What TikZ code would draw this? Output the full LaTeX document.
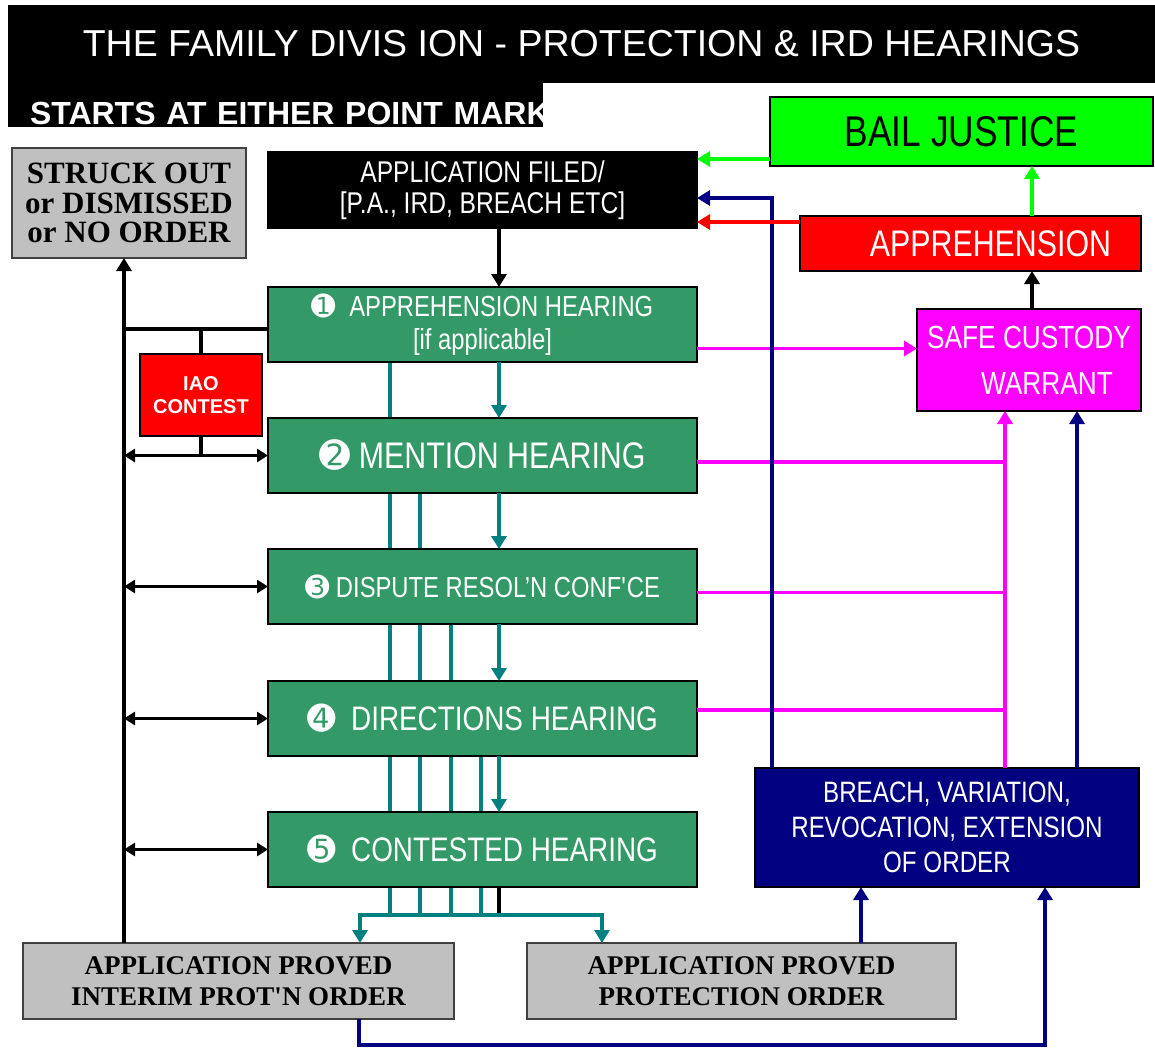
\documentclass[tikz,border=0pt]{standalone}
\usepackage{fontspec}
\setmainfont{Liberation Serif}
\setsansfont{Liberation Sans}
\newfontfamily\narrowfont{Liberation Sans}[FakeStretch=0.82]
\newfontfamily\dingfont{DejaVu Sans}
\usetikzlibrary{arrows.meta, positioning, calc, backgrounds}
\definecolor{hearinggreen}{HTML}{339966}
\definecolor{boxgrey}{HTML}{C0C0C0}
\definecolor{iaored}{HTML}{FF0000}
\definecolor{bailgreen}{HTML}{00FF00}
\definecolor{warrantpink}{HTML}{FF00FF}
\definecolor{breachnavy}{HTML}{000080}
\definecolor{linkteal}{HTML}{008080}
\newcommand{\fsz}[2]{\fontsize{#1}{#2}\selectfont}
\newcommand{\stepno}[1]{{\dingfont #1}}

\begin{document}
\begin{tikzpicture}[x=1pt, y=-1pt,
        every node/.style={inner sep=0pt, outer sep=0pt},
        bar/.style={anchor=north west, fill=black, text=white},
        hearing/.style={anchor=north west, draw=black, line width=1.5pt, fill=hearinggreen, text=white, minimum width=429pt, minimum height=75pt, align=center},
        grey/.style={anchor=north west, draw=black!75, line width=1.5pt, fill=boxgrey, align=center},
        colbox/.style={anchor=north west, draw=black, line width=1.5pt, align=center},
        link/.style={line width=3.5pt},
        arrow/.style={link, -{Triangle[length=13pt, width=15pt]}},
        both/.style={link, {Triangle[length=11pt, width=13pt]}-{Triangle[length=11pt, width=13pt]}}
    ]
    \useasboundingbox (0,0) rectangle (1155,1050);

    % header bars
    \node[bar, minimum width=1147pt, minimum height=78pt, font={\sffamily\fsz{37.5}{40}}] (title) at (8,5) {THE FAMILY DIVIS ION - PROTECTION \& IRD HEARINGS};
    \node[bar, minimum width=535pt, minimum height=44pt, text width=491pt, text height=38pt, text depth=0pt, align=left, font={\sffamily\bfseries\fsz{32}{34}}] (start) at (8,83) {\mbox{STARTS AT EITHER POINT MARK}};

    % hearings
    \node[hearing, font={\narrowfont\fsz{29}{33}}] (h1) at (268,287) {\stepno{➊}\ \ APPREHENSION HEARING\\{[if applicable]}};
    \node[hearing, font={\narrowfont\fsz{37}{40}}] (h2) at (268,418) {\stepno{➋} MENTION HEARING};
    \node[hearing, font={\narrowfont\fsz{29}{32}}] (h3) at (268,549) {\stepno{➌} DISPUTE RESOL’N CONF\textquotesingle CE};
    \node[hearing, font={\narrowfont\fsz{34}{37}}] (h4) at (268,681) {\stepno{➍}\ \ DIRECTIONS HEARING};
    \node[hearing, font={\narrowfont\fsz{34}{37}}] (h5) at (268,812) {\stepno{➎}\ \ CONTESTED HEARING};

    % other boxes
    \node[colbox, fill=black, text=white, minimum width=429pt, minimum height=76pt, font={\narrowfont\fsz{30}{31}}] (filed) at (268,152) {APPLICATION FILED/\\{[P.A., IRD, BREACH ETC]}};
    \node[grey, minimum width=234pt, minimum height=110pt, font={\bfseries\fsz{31}{29.5}}] (struck) at (12,148) {STRUCK OUT\\or DISMISSED\\or NO ORDER};
    \node[colbox, fill=iaored, text=white, minimum width=122pt, minimum height=82pt, font={\sffamily\bfseries\fsz{20}{23}}] (iao) at (140,354) {IAO\\CONTEST};
    \node[colbox, fill=bailgreen, minimum width=383pt, minimum height=69pt, font={\narrowfont\fsz{43}{46}}] (bail) at (770,97) {BAIL JUSTICE};
    \node[colbox, fill=iaored, text=white, minimum width=341pt, minimum height=55pt, font={\narrowfont\fsz{37}{40}}] (appr) at (800,216) {\hspace*{40pt}APPREHENSION};
    \node[colbox, fill=warrantpink, text=white, minimum width=224pt, minimum height=102pt, font={\narrowfont\fsz{32}{46}}] (safe) at (917,309) {SAFE CUSTODY\\\hspace*{36pt}WARRANT};
    \node[colbox, fill=breachnavy, text=white, minimum width=384pt, minimum height=119pt, font={\narrowfont\fsz{29.5}{35}}] (breach) at (755,768) {BREACH, VARIATION,\\REVOCATION, EXTENSION\\OF ORDER};
    \node[grey, minimum width=431pt, minimum height=76pt, font={\bfseries\fsz{27}{31}}] (interim) at (23,943) {APPLICATION PROVED\\INTERIM PROT\textquotesingle N ORDER};
    \node[grey, minimum width=429pt, minimum height=76pt, font={\bfseries\fsz{27}{31}}] (protect) at (527,943) {APPLICATION PROVED\\PROTECTION ORDER};

    % routing points
    \coordinate (spine) at (124,0);
    \coordinate (branch) at (0,329);
    \coordinate (flow) at (499,0);
    \coordinate (split) at (0,915);
    \coordinate (leftdrop) at (360,0);
    \coordinate (rightdrop) at (602,0);
    \coordinate (magx) at (1005,0);
    \coordinate (upx) at (1032,0);
    \coordinate (navyl) at (772,0);
    \coordinate (navyr) at (1077,0);
    \coordinate (protx) at (861,0);
    \coordinate (intx) at (359,0);
    \coordinate (loop) at (1045,1045);

    % teal through-lines behind the hearings
    \begin{scope}[on background layer]
        \foreach \h/\xx in {h1/390, h2/420, h3/451, h4/481}
            \draw[link, linkteal] (\h.south -| \xx,0) -- (\xx,0 |- split);
    \end{scope}
    \foreach \a/\b in {h1/h2, h2/h3, h3/h4, h4/h5}
        \draw[arrow, linkteal] (\a.south -| flow) -- (\b.north -| flow);
    \draw[link] (h5.south -| flow) -- (flow |- split);
    \draw[arrow, linkteal] (flow |- split) -| (leftdrop |- interim.north);
    \draw[arrow, linkteal] (flow |- split) -| (rightdrop |- protect.north);

    % black
    \draw[arrow] (filed.south -| flow) -- (h1.north -| flow);
    \draw[arrow] (spine |- interim.north) -- (spine |- struck.south);
    \draw[link] (h1.west |- branch) -- (spine |- branch);
    \draw[link] (iao.north) -- (iao.north |- branch);
    \draw[link] (iao.south) -- (iao.south |- h2.west);
    \foreach \h in {h2, h3, h4, h5}
        \draw[both] (spine |- \h.west) -- (\h.west);
    \draw[arrow] (upx |- safe.north) -- (upx |- appr.south);

    % magenta
    \draw[arrow, warrantpink] ([yshift=-24pt]h1.east) -- ([yshift=-24pt]h1.east -| safe.west);
    \foreach \h/\dy in {h2/-6.5, h3/-6, h4/8.5}
        \draw[link, warrantpink] ([yshift=\dy pt]\h.east) -- ([yshift=\dy pt]\h.east -| magx);
    \draw[arrow, warrantpink] (magx |- breach.north) -- (magx |- safe.south);

    % navy
    \draw[arrow, breachnavy] (navyl |- breach.north) |- ([yshift=-8pt]filed.east);
    \draw[arrow, breachnavy] (navyr |- breach.north) -- (navyr |- safe.south);
    \draw[arrow, breachnavy] (protx |- protect.north) -- (protx |- breach.south);
    \draw[arrow, breachnavy] (intx |- interim.south) |- (loop) -- (loop |- breach.south);

    % red and green
    \draw[arrow, iaored] ([yshift=21.5pt]appr.west) -- ([yshift=21.5pt]appr.west -| filed.east);
    \draw[arrow, bailgreen] ([yshift=-27.5pt]bail.west) -- ([yshift=-27.5pt]bail.west -| filed.east);
    \draw[arrow, bailgreen] (upx |- appr.north) -- (upx |- bail.south);
\end{tikzpicture}
\end{document}
